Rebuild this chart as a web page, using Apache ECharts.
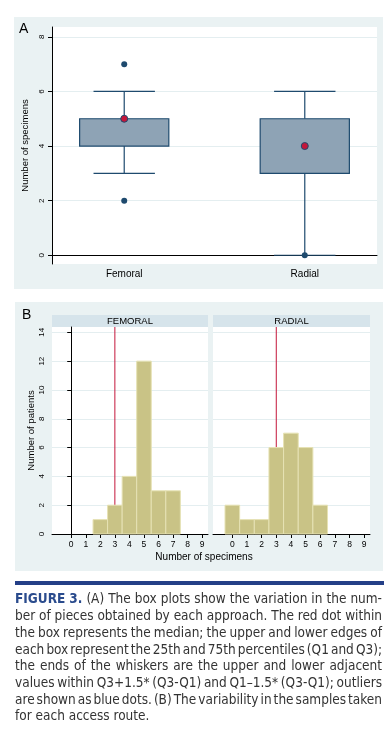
<!DOCTYPE html>
<html>
<head>
<meta charset="utf-8">
<script src="https://cdn.jsdelivr.net/npm/echarts@6/dist/echarts.min.js"></script>
<style>
html,body{margin:0;padding:0;background:#fff;}
#chart{width:391px;height:738px;}
</style>
</head>
<body>
<div id="chart"></div>
<script>
// ---------- data ----------
const boxCategories = ['Femoral', 'Radial'];
const boxLowerWhisker = [3, 0];
const boxQ1 = [4, 3];
const boxMedian = [5, 4];
const boxQ3 = [5, 5];
const boxUpperWhisker = [6, 6];
const boxOutlierCategory = [0, 0, 1];
const boxOutlierValue = [2, 7, 0];
const boxYTicks = [0, 2, 4, 6, 8];

const panelTitles = ['FEMORAL', 'RADIAL'];
const histBins = [0, 1, 2, 3, 4, 5, 6, 7, 8, 9];
const femoralCounts = [0, 0, 1, 2, 4, 12, 3, 3, 0, 0];
const radialCounts = [2, 1, 1, 6, 7, 6, 2, 0, 0, 0];
const histMedianLine = [3, 3];
const histYTicks = [0, 2, 4, 6, 8, 10, 12, 14];
const histXTicks = [0, 1, 2, 3, 4, 5, 6, 7, 8, 9];

const captionLines = [
  'FIGURE 3. (A) The box plots show the variation in the num-',
  'ber of pieces obtained by each approach. The red dot within',
  'the box represents the median; the upper and lower edges of',
  'each box represent the 25th and 75th percentiles (Q1 and Q3);',
  'the ends of the whiskers are the upper and lower adjacent',
  'values within Q3+1.5* (Q3-Q1) and Q1\u20131.5* (Q3-Q1); outliers',
  'are shown as blue dots. (B) The variability in the samples taken',
  'for each access route.'
];

// ---------- styles ----------
const FONT = 'Liberation Sans, Arial, sans-serif';
const NAVY = '#1E4A6E';
const PANEL_BG = '#EAF2F3';
const STRIP_BG = '#D6E4EB';
const GRID_C = '#E4EEF0';
const BAR_FILL = '#C9C386';
const BAR_EDGE = '#E6E2B4';
const RED = '#C4163A';

const chart = echarts.init(document.getElementById('chart'), null, {renderer: 'canvas'});

// ---------- series data built from arrays ----------
const boxData = boxCategories.map((c, i) => [i + 1, boxLowerWhisker[i], boxQ1[i], boxQ3[i], boxUpperWhisker[i]]);
const medianData = boxCategories.map((c, i) => [i + 1, boxMedian[i]]);
const outlierData = boxOutlierCategory.map((c, i) => [c + 1, boxOutlierValue[i]]);
const femData = histBins.map((b, i) => [b, femoralCounts[i]]);
const radData = histBins.map((b, i) => [b, radialCounts[i]]);

function boxRender(params, api) {
  const x = api.value(0);
  const lo = api.value(1), q1 = api.value(2), q3 = api.value(3), hi = api.value(4);
  const bw = api.size([0.494, 0])[0];
  const cw = api.size([0.34, 0])[0];
  const pLo = api.coord([x, lo]), pQ1 = api.coord([x, q1]), pQ3 = api.coord([x, q3]), pHi = api.coord([x, hi]);
  const ls = {stroke: NAVY, lineWidth: 1.2};
  return {
    type: 'group',
    children: [
      {type: 'line', shape: {x1: pHi[0], y1: pHi[1], x2: pQ3[0], y2: pQ3[1]}, style: ls},
      {type: 'line', shape: {x1: pQ1[0], y1: pQ1[1], x2: pLo[0], y2: pLo[1]}, style: ls},
      {type: 'line', shape: {x1: pHi[0] - cw / 2, y1: pHi[1], x2: pHi[0] + cw / 2, y2: pHi[1]}, style: ls},
      {type: 'line', shape: {x1: pLo[0] - cw / 2, y1: pLo[1], x2: pLo[0] + cw / 2, y2: pLo[1]}, style: ls},
      {type: 'rect', shape: {x: pQ3[0] - bw / 2, y: pQ3[1], width: bw, height: pQ1[1] - pQ3[1]},
        style: {fill: '#8EA3B5', stroke: NAVY, lineWidth: 1.2}}
    ]
  };
}

function histRender(params, api) {
  const x = api.value(0), y = api.value(1);
  if (!y) return null;
  const p0 = api.coord([x - 0.5, y]);
  const p1 = api.coord([x + 0.5, 0]);
  return {
    type: 'rect',
    shape: {x: p0[0], y: p0[1], width: p1[0] - p0[0], height: p1[1] - p0[1]},
    style: {fill: BAR_FILL, stroke: BAR_EDGE, lineWidth: 1}
  };
}

const axisLineBlack = {show: true, lineStyle: {color: '#000', width: 1}};
const labelStyle = {fontFamily: FONT, fontSize: 8, color: '#000'};

function histYAxis(idx, showAxis) {
  return {
    type: 'value', gridIndex: idx, min: 0, max: 14.37,
    axisLine: showAxis ? axisLineBlack : {show: false},
    axisTick: {show: showAxis, length: 4, lineStyle: {color: '#000'}, customValues: histYTicks},
    axisLabel: {show: showAxis, rotate: 90, margin: 6, customValues: histYTicks, ...labelStyle},
    splitLine: {show: true, lineStyle: {color: GRID_C, width: 1}},
    name: showAxis ? 'Number of patients' : '',
    nameLocation: 'middle', nameGap: 16, nameRotate: 90,
    nameTextStyle: {fontFamily: FONT, fontSize: 9.5, color: '#000'}
  };
}
function histXAxis(idx) {
  return {
    type: 'value', gridIndex: idx, min: -1.32, max: 9.4,
    axisLine: axisLineBlack,
    axisTick: {show: true, length: 4, lineStyle: {color: '#000'}, customValues: histXTicks},
    axisLabel: {margin: 6, customValues: histXTicks, ...labelStyle, fontSize: 8.5},
    splitLine: {show: false}
  };
}

// ---------- caption graphic (justified, word by word) ----------
const CAP_FONT_FAMILY = "'Liberation Sans Narrow', 'DejaVu Sans Condensed', sans-serif";
const CAP_SIZE = 13.5;
const capLeft = 15, capRight = 382;
const measureCtx = document.createElement('canvas').getContext('2d');
const captionGraphics = [];
captionLines.forEach((line, li) => {
  const words = line.split(' ');
  const y = 601 + li * 16.7;
  const styles = words.map((w, wi) => (li === 0 && wi < 2) ? 'bold' : 'normal');
  const widths = words.map((w, wi) => {
    measureCtx.font = styles[wi] + ' ' + CAP_SIZE + 'px ' + CAP_FONT_FAMILY;
    return measureCtx.measureText(w).width;
  });
  const total = widths.reduce((a, b) => a + b, 0);
  measureCtx.font = 'normal ' + CAP_SIZE + 'px ' + CAP_FONT_FAMILY;
  const spaceW = measureCtx.measureText(' ').width;
  const last = li === captionLines.length - 1;
  const gap = last ? spaceW : (capRight - capLeft - total) / (words.length - 1);
  let x = capLeft;
  words.forEach((w, wi) => {
    captionGraphics.push({
      type: 'text', left: x, top: y - CAP_SIZE * 0.6, z: 10,
      style: {
        text: w, fontFamily: CAP_FONT_FAMILY, fontSize: CAP_SIZE,
        fontWeight: styles[wi], fill: styles[wi] === 'bold' ? '#2A4B8D' : '#333333'
      }
    });
    x += widths[wi] + gap;
  });
});

const option = {
  animation: false,
  backgroundColor: '#ffffff',
  textStyle: {fontFamily: FONT},
  grid: [
    {left: 52, top: 27, width: 325, height: 237, show: true, backgroundColor: '#fff', borderWidth: 0},
    {left: 52, top: 327, width: 156, height: 207, show: true, backgroundColor: '#fff', borderWidth: 0},
    {left: 213, top: 327, width: 157, height: 207, show: true, backgroundColor: '#fff', borderWidth: 0}
  ],
  xAxis: [
    {
      type: 'value', gridIndex: 0, min: 0.6, max: 2.4,
      axisLine: axisLineBlack,
      axisTick: {show: false, customValues: [1, 2]},
      axisLabel: {margin: 5, customValues: [1, 2], fontFamily: FONT, fontSize: 10, color: '#000',
        formatter: v => boxCategories[Math.round(v) - 1] || ''},
      splitLine: {show: false}
    },
    histXAxis(1),
    histXAxis(2)
  ],
  yAxis: [
    {
      type: 'value', gridIndex: 0, min: -0.32, max: 8.36,
      axisLine: axisLineBlack,
      axisTick: {show: true, length: 4, lineStyle: {color: '#000'}, customValues: boxYTicks},
      axisLabel: {rotate: 90, margin: 6, customValues: boxYTicks, ...labelStyle},
      splitLine: {show: true, lineStyle: {color: GRID_C, width: 1}},
      name: 'Number of specimens', nameLocation: 'middle', nameGap: 14, nameRotate: 90,
      nameTextStyle: {fontFamily: FONT, fontSize: 9.5, color: '#000'}
    },
    histYAxis(1, true),
    histYAxis(2, false)
  ],
  series: [
    {type: 'custom', xAxisIndex: 0, yAxisIndex: 0, renderItem: boxRender, data: boxData,
      encode: {x: 0, y: [1, 2, 3, 4]}, z: 2, silent: true},
    {type: 'scatter', xAxisIndex: 0, yAxisIndex: 0, data: outlierData, symbolSize: 6,
      itemStyle: {color: NAVY, opacity: 1}, z: 3, silent: true},
    {type: 'scatter', xAxisIndex: 0, yAxisIndex: 0, data: medianData, symbolSize: 7,
      itemStyle: {color: RED, borderColor: NAVY, borderWidth: 1, opacity: 1}, z: 4, silent: true},
    {type: 'line', xAxisIndex: 1, yAxisIndex: 1, data: [[histMedianLine[0], 0], [histMedianLine[0], 14.37]],
      symbol: 'none', lineStyle: {color: RED, width: 1}, z: 1, silent: true},
    {type: 'line', xAxisIndex: 2, yAxisIndex: 2, data: [[histMedianLine[1], 0], [histMedianLine[1], 14.37]],
      symbol: 'none', lineStyle: {color: RED, width: 1}, z: 1, silent: true},
    {type: 'custom', xAxisIndex: 1, yAxisIndex: 1, renderItem: histRender, data: femData,
      encode: {x: 0, y: 1}, z: 2, silent: true},
    {type: 'custom', xAxisIndex: 2, yAxisIndex: 2, renderItem: histRender, data: radData,
      encode: {x: 0, y: 1}, z: 2, silent: true}
  ],
  graphic: [
    {type: 'rect', shape: {x: 14, y: 17, width: 369, height: 272}, style: {fill: PANEL_BG}, z: -10, silent: true},
    {type: 'rect', shape: {x: 15, y: 302, width: 368, height: 269}, style: {fill: PANEL_BG}, z: -10, silent: true},
    {type: 'rect', shape: {x: 52, y: 315, width: 156, height: 12}, style: {fill: STRIP_BG}, z: -5, silent: true},
    {type: 'rect', shape: {x: 213, y: 315, width: 157, height: 12}, style: {fill: STRIP_BG}, z: -5, silent: true},
    {type: 'text', x: 130, y: 321, z: 5, style: {text: panelTitles[0], fontFamily: FONT, fontSize: 9.5, fill: '#000', align: 'center', verticalAlign: 'middle'}},
    {type: 'text', x: 291.5, y: 321, z: 5, style: {text: panelTitles[1], fontFamily: FONT, fontSize: 9.5, fill: '#000', align: 'center', verticalAlign: 'middle'}},
    {type: 'text', x: 19, y: 29, z: 5, style: {text: 'A', fontFamily: FONT, fontSize: 14, fill: '#000', align: 'left', verticalAlign: 'middle'}},
    {type: 'text', x: 22, y: 315, z: 5, style: {text: 'B', fontFamily: FONT, fontSize: 14, fill: '#000', align: 'left', verticalAlign: 'middle'}},
    {type: 'text', x: 204, y: 557, z: 5, style: {text: 'Number of specimens', fontFamily: FONT, fontSize: 10, fill: '#000', align: 'center', verticalAlign: 'middle'}},
    {type: 'rect', shape: {x: 15, y: 581, width: 369, height: 4}, style: {fill: '#243F87'}, z: 5, silent: true}
  ].concat(captionGraphics)
};
chart.setOption(option);
</script>
</body>
</html>
